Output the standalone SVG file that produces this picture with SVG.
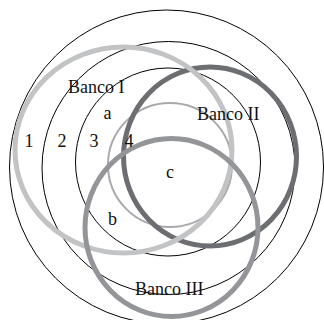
<svg xmlns="http://www.w3.org/2000/svg" width="324" height="320" viewBox="0 0 324 320">
<style>
.ring{fill:none;stroke:#000;stroke-width:1}
.lbl{font-family:"Liberation Serif","Times New Roman",serif;font-size:18px;fill:#111}
</style>
<rect width="324" height="320" fill="#fff"/>
<g id="levels">
<circle class="ring" cx="166.5" cy="167" r="157"/>
<circle class="ring" cx="168.5" cy="168" r="126.5"/>
<ellipse class="ring" cx="168" cy="162" rx="92.5" ry="94"/>
<circle cx="170" cy="165" r="62" fill="none" stroke="#a7a9ac" stroke-width="2"/>
</g>
<g id="banco-ii"><ellipse cx="210" cy="156.5" rx="86.5" ry="89.5" fill="none" stroke="#6d6e71" stroke-width="5"/></g>
<g id="banco-i"><ellipse cx="123.5" cy="150" rx="108.5" ry="103" fill="none" stroke="#c2c3c5" stroke-width="5"/></g>
<g id="banco-iii"><ellipse cx="171.5" cy="227.5" rx="86.5" ry="89" fill="none" stroke="#939598" stroke-width="5"/></g>
<g id="labels">
<text class="lbl" x="68" y="93">Banco I</text>
<text class="lbl" x="197" y="120">Banco II</text>
<text class="lbl" x="135" y="295">Banco III</text>
<text class="lbl" x="103.5" y="119">a</text>
<text class="lbl" x="108" y="225">b</text>
<text class="lbl" x="166" y="178">c</text>
<text class="lbl" x="24.5" y="147">1</text>
<text class="lbl" x="57.5" y="147">2</text>
<text class="lbl" x="89.5" y="147">3</text>
<text class="lbl" x="124.5" y="147">4</text>
</g>
</svg>
